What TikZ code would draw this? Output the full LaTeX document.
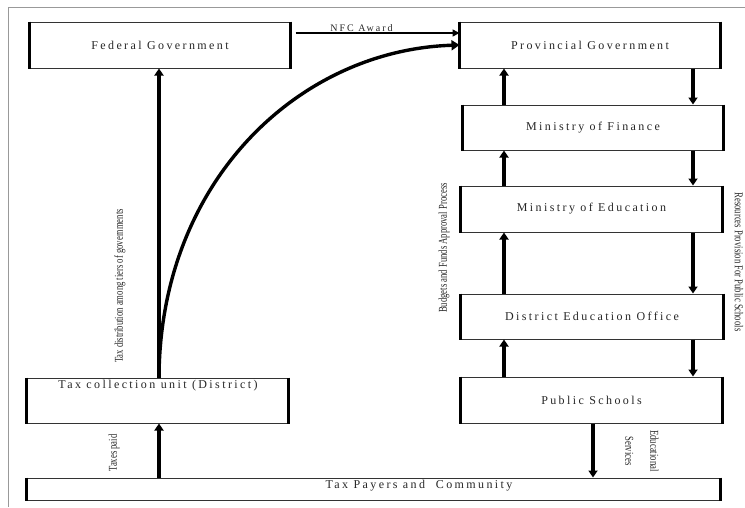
\documentclass[tikz,border=0pt]{standalone}
\usepackage{fontspec}
\setmainfont{Liberation Serif}
\newfontfamily\boxfont[LetterSpace=20]{Liberation Serif}
\usetikzlibrary{arrows.meta,calc}
\tikzset{
  box/.style={draw=black!80, line width=1pt, minimum width=#1, inner sep=0pt,
    text=black!85, font=\boxfont\fontsize{12}{14}\selectfont,
    append after command={
      (\tikzlastnode.north west) edge[line width=2.6pt, black, -] (\tikzlastnode.south west)
      (\tikzlastnode.north east) edge[line width=2.6pt, black, -] (\tikzlastnode.south east)}},
  boxtext/.style={text=black!85, font=\boxfont\fontsize{12}{14}\selectfont, inner sep=0pt},
  arr/.style={line width=3.2pt, -{Triangle[length=7pt,width=9pt]}},
  side/.style={inner sep=0pt, text=black!85, font=\fontsize{12}{13}\selectfont},
}
\newcommand{\cond}[1]{\scalebox{0.72}[1]{#1}}
\begin{document}
\begin{tikzpicture}[x=1pt,y=-1pt]
\useasboundingbox (0,0) rectangle (745,507);
% frame
\draw[black!40, line width=1pt] (8,507) -- (8,7) -- (745,7);
% boxes
\node[box=260pt, minimum height=46pt] (fed) at (160,45) {Federal Government};
\node[box=260pt, minimum height=46pt] (prov) at (590,45) {Provincial Government};
\node[box=260pt, minimum height=45pt] (mof) at (593,127.5) {Ministry of Finance};
\node[box=261pt, minimum height=46pt] (moe) at (591.5,209) {Ministry of Education};
\node[box=262pt, minimum height=45pt] (deo) at (592,316.5) {District Education Office};
\node[box=261pt, minimum height=46pt] (ps) at (591.5,400) {Public Schools};
\node[box=261pt, minimum height=45pt] (tcu) at (157.5,400.5) {};
\node[boxtext, anchor=north] (tcut) at (158,380) {Tax collection unit (District)};
\node[box=693pt, minimum height=22pt] (tp) at (373.5,489) {};
\node[boxtext, anchor=north] (tpt) at (419,480) {Tax Payers and\ \ Community};
% helper coordinates
\coordinate (upx) at (504,0);
\coordinate (dnx) at (693,0);
\coordinate (nfcy) at (0,33);
\coordinate (psx) at (593,0);
\coordinate (tcx) at (159,0);
% NFC award
\draw[line width=1.6pt, -{Triangle[length=7pt,width=7pt]}, shorten <=5pt] (fed.east |- nfcy) -- (prov.west |- nfcy)
  node[pos=0.42, above=1pt, boxtext, font=\boxfont\fontsize{10}{11}\selectfont] (nfc) {NFC Award};
% vertical chain
\draw[arr] (mof.north -| upx) -- (prov.south -| upx);
\draw[arr] (prov.south -| dnx) -- (mof.north -| dnx);
\draw[arr] (moe.north -| upx) -- (mof.south -| upx);
\draw[arr] (mof.south -| dnx) -- (moe.north -| dnx);
\draw[arr] (deo.north -| upx) -- (moe.south -| upx);
\draw[arr] (moe.south -| dnx) -- (deo.north -| dnx);
\draw[arr] (ps.north -| upx) -- (deo.south -| upx);
\draw[arr] (deo.south -| dnx) -- (ps.north -| dnx);
\draw[arr] (ps.south -| psx) -- (tp.north -| psx);
% left side
\draw[arr] (tp.north -| tcx) -- (tcu.south -| tcx);
\draw[arr] (tcu.north -| tcx) -- (fed.south -| tcx);
\draw[line width=3.4pt, -{Triangle[length=8pt,width=10pt]}] (tcu.north -| tcx) .. controls (160,180) and (300,50) .. (prov.west);
% side labels
\node[side, rotate=90] (taxpaid) at (114,453) {\cond{Taxes paid}};
\node[side, rotate=90] (taxdist) at (120,286) {\cond{Tax distribution among tiers of governments}};
\node[side, rotate=90] (budget) at (444,248) {\cond{Budgets and Funds Approval Process}};
\node[side, rotate=-90] (resprov) at (739,262) {\cond{Resources Provision For Public Schools}};
\node[side, rotate=-90, align=center] (edserv) at (642,451) {\cond{Educational}\\[12pt]\cond{Services}};
\end{tikzpicture}
\end{document}
